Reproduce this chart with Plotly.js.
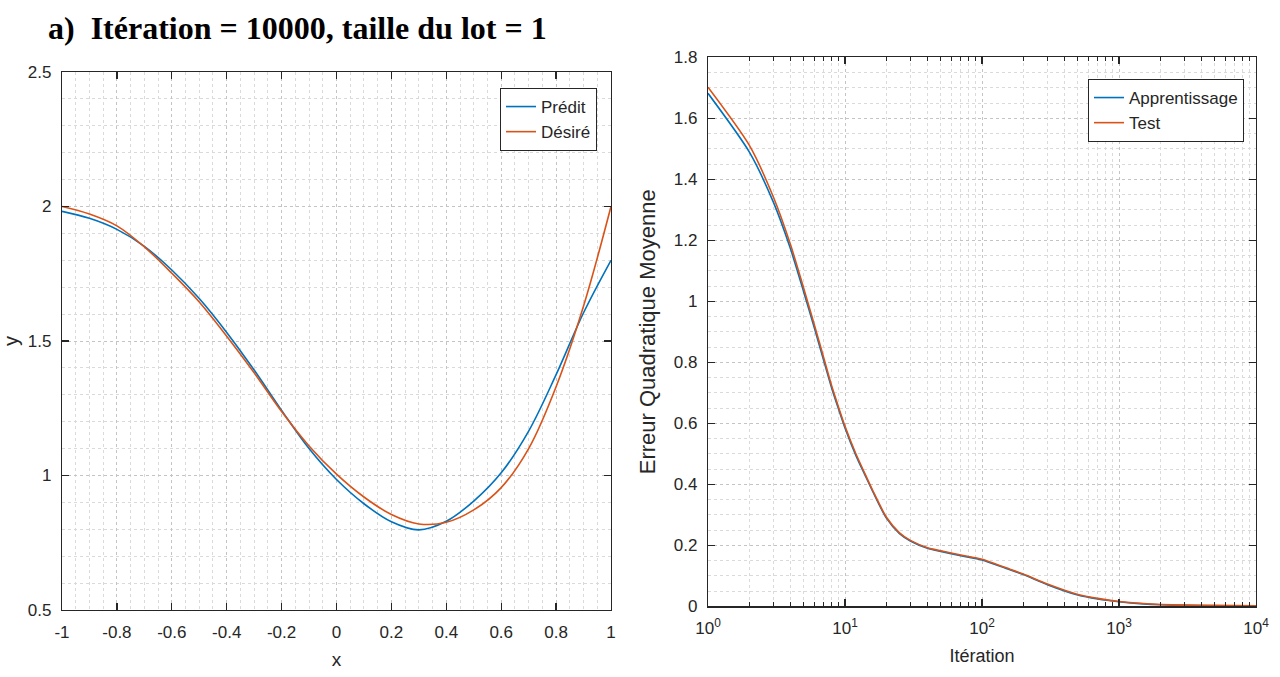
<!DOCTYPE html>
<html>
<head>
<meta charset="utf-8">
<script src="https://cdn.plot.ly/plotly-3.0.1.min.js"></script>
<style>
  html, body { margin: 0; padding: 0; background: #fff; }
  #chart { width: 1280px; height: 677px; }
</style>
</head>
<body>
<div id="chart"></div>
<script>
// Left panel: predicted vs. desired output over x
const xValues = [-1, -0.9, -0.8, -0.7, -0.6, -0.5, -0.4, -0.3, -0.2, -0.1, 0,
                 0.1, 0.2, 0.3, 0.4, 0.5, 0.6, 0.7, 0.8, 0.9, 1];
const predit = [1.982, 1.956, 1.915, 1.852, 1.764, 1.658, 1.532, 1.392, 1.242, 1.100, 0.985,
                0.895, 0.828, 0.798, 0.830, 0.905, 1.010, 1.165, 1.375, 1.605, 1.800];
const desire = [2.000, 1.972, 1.928, 1.850, 1.752, 1.645, 1.518, 1.382, 1.238, 1.110, 1.005,
                0.920, 0.855, 0.820, 0.826, 0.872, 0.955, 1.100, 1.330, 1.630, 2.000];

// Right panel: mean squared error per iteration
const iterations = [1, 2, 3, 4, 5, 6, 7, 8, 9, 10, 12, 14, 16, 20, 25, 30, 40, 50, 70, 100,
                    150, 200, 300, 500, 700, 1000, 1500, 2000, 3000, 5000, 10000];
const erreurApprentissage = [1.682, 1.490, 1.325, 1.172, 1.030, 0.910, 0.805, 0.715, 0.645, 0.585,
                             0.495, 0.430, 0.375, 0.290, 0.238, 0.214, 0.190, 0.180, 0.166, 0.152,
                             0.124, 0.104, 0.071, 0.037, 0.024, 0.015, 0.008, 0.005, 0.003, 0.002, 0.001];
const erreurTest = [1.702, 1.512, 1.342, 1.186, 1.042, 0.920, 0.814, 0.722, 0.651, 0.590,
                    0.500, 0.434, 0.378, 0.293, 0.241, 0.216, 0.192, 0.182, 0.168, 0.154,
                    0.126, 0.106, 0.073, 0.039, 0.026, 0.016, 0.009, 0.006, 0.004, 0.003, 0.002];

// Tick labels
const xTickVals = [-1, -0.8, -0.6, -0.4, -0.2, 0, 0.2, 0.4, 0.6, 0.8, 1];
const xTickText = ['-1', '-0.8', '-0.6', '-0.4', '-0.2', '0', '0.2', '0.4', '0.6', '0.8', '1'];
const logTickVals = [1, 10, 100, 1000, 10000];
const logTickText = ['10<sup>0</sup>', '10<sup>1</sup>', '10<sup>2</sup>', '10<sup>3</sup>', '10<sup>4</sup>'];

const BLUE = '#0072BD';
const ORANGE = '#D95319';
const AXIS = '#262626';
const SANS = '"Liberation Sans", Arial, sans-serif';

const traces = [
  { x: xValues, y: predit, name: 'Prédit', type: 'scatter', mode: 'lines',
    line: { color: BLUE, width: 1.6, shape: 'spline', smoothing: 1 }, xaxis: 'x', yaxis: 'y', legend: 'legend' },
  { x: xValues, y: desire, name: 'Désiré', type: 'scatter', mode: 'lines',
    line: { color: ORANGE, width: 1.6, shape: 'spline', smoothing: 1 }, xaxis: 'x', yaxis: 'y', legend: 'legend' },
  { x: iterations, y: erreurApprentissage, name: 'Apprentissage', type: 'scatter', mode: 'lines',
    line: { color: BLUE, width: 1.6, shape: 'spline', smoothing: 0.7 }, xaxis: 'x2', yaxis: 'y2', legend: 'legend2' },
  { x: iterations, y: erreurTest, name: 'Test', type: 'scatter', mode: 'lines',
    line: { color: ORANGE, width: 1.6, shape: 'spline', smoothing: 0.7 }, xaxis: 'x2', yaxis: 'y2', legend: 'legend2' }
];

const common = {
  showline: true, linecolor: AXIS, linewidth: 1.2, mirror: 'ticks',
  ticks: 'inside', ticklen: 7, tickcolor: AXIS, tickwidth: 1.2,
  showgrid: true, gridcolor: '#c4c4c4', griddash: 'dot', gridwidth: 1,
  zeroline: false, fixedrange: true,
  tickfont: { family: SANS, size: 17, color: AXIS },
  ticklabelstandoff: 6
};

const layout = {
  width: 1280, height: 677,
  margin: { l: 0, r: 0, t: 0, b: 0 },
  paper_bgcolor: '#ffffff', plot_bgcolor: '#ffffff',
  showlegend: true,
  title: {
    text: 'a)  Itération = 10000, taille du lot = 1',
    font: { family: '"Liberation Serif", "Times New Roman", serif', size: 32, color: '#000', weight: 'bold' },
    xref: 'container', yref: 'container', x: 48 / 1280, xanchor: 'left',
    y: 1 - 28 / 677, yanchor: 'middle'
  },
  xaxis: Object.assign({}, common, {
    domain: [62 / 1280, 611 / 1280], anchor: 'y',
    range: [-1, 1], tickmode: 'array', tickvals: xTickVals, ticktext: xTickText,
    minor: { dtick: 0.05, showgrid: true, gridcolor: '#dadada', griddash: 'dot', ticks: '' },
    title: { text: 'x', font: { family: SANS, size: 19, color: AXIS }, standoff: 12 }
  }),
  yaxis: Object.assign({}, common, {
    domain: [(677 - 610) / 677, (677 - 72) / 677], anchor: 'x',
    range: [0.5, 2.5], dtick: 0.5, tick0: 0.5,
    minor: { dtick: 0.1, showgrid: true, gridcolor: '#dadada', griddash: 'dot', ticks: '' },
    title: { text: 'y', font: { family: SANS, size: 20, color: AXIS }, standoff: 12 }
  }),
  xaxis2: Object.assign({}, common, {
    domain: [708 / 1280, 1256 / 1280], anchor: 'y2', type: 'log',
    range: [0, 4], tickmode: 'array', tickvals: logTickVals, ticktext: logTickText,
    minor: { dtick: 'D1', showgrid: true, gridcolor: '#dadada', griddash: 'dot',
             ticks: 'inside', ticklen: 4, tickcolor: AXIS },
    title: { text: 'Itération', font: { family: SANS, size: 18, color: AXIS }, standoff: 12 }
  }),
  yaxis2: Object.assign({}, common, {
    domain: [(677 - 606.3) / 677, (677 - 57.3) / 677], anchor: 'x2',
    range: [0, 1.8], dtick: 0.2, tick0: 0,
    minor: { dtick: 0.05, showgrid: true, gridcolor: '#dadada', griddash: 'dot', ticks: '' },
    title: { text: 'Erreur Quadratique Moyenne', font: { family: SANS, size: 22, color: AXIS }, standoff: 12 }
  }),
  legend: {
    x: 597 / 1280, xanchor: 'right', y: 1 - 88 / 677, yanchor: 'top',
    xref: 'paper', yref: 'paper',
    bgcolor: '#ffffff', bordercolor: AXIS, borderwidth: 1,
    font: { family: SANS, size: 17, color: AXIS }, tracegroupgap: 0
  },
  legend2: {
    x: 1244 / 1280, xanchor: 'right', y: 1 - 79 / 677, yanchor: 'top',
    xref: 'paper', yref: 'paper',
    bgcolor: '#ffffff', bordercolor: AXIS, borderwidth: 1,
    font: { family: SANS, size: 17, color: AXIS }, tracegroupgap: 0
  }
};

Plotly.newPlot('chart', traces, layout, { staticPlot: true, displayModeBar: false });
</script>
</body>
</html>
